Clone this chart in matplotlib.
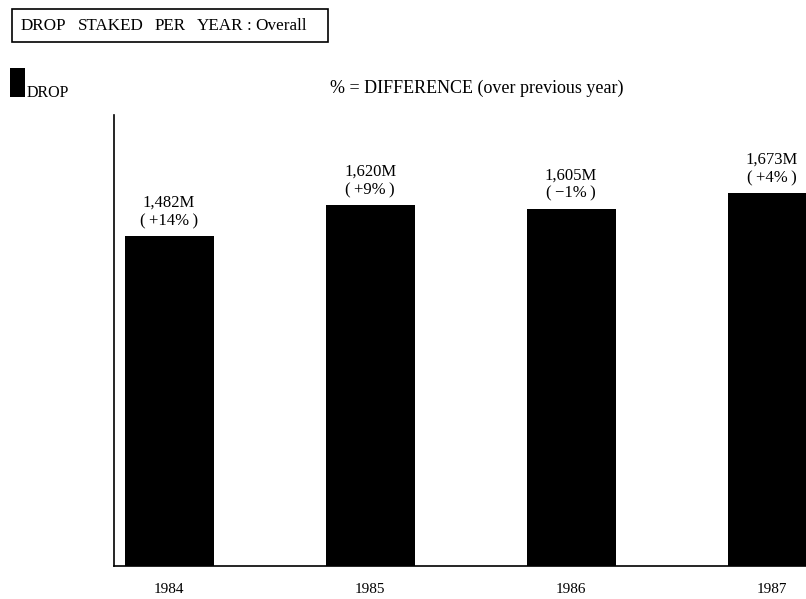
import matplotlib
matplotlib.use("Agg")
import matplotlib.pyplot as plt
from matplotlib.patches import Rectangle

years = ["1984", "1985", "1986", "1987"]
drop_millions = [1482, 1620, 1605, 1673]
pct_change = ["+14%", "+9%", "\u22121%", "+4%"]

plt.rcParams["font.family"] = ["Liberation Serif", "DejaVu Serif"]

W, H = 806, 599
fig = plt.figure(figsize=(W / 100, H / 100), dpi=100)

# axes box in pixel coordinates
ax_left, ax_right, ax_top, ax_bottom = 114, 806, 115, 566
ax = fig.add_axes([ax_left / W, 1 - ax_bottom / H,
                   (ax_right - ax_left) / W, (ax_bottom - ax_top) / H])

x = list(range(len(years)))
ax.bar(x, drop_millions, width=0.443, color="black")
ax.set_xlim(-0.274, 3.169)
ax.set_ylim(0, 2025)

thin = "\u2009"
for xi, v, p in zip(x, drop_millions, pct_change):
    ax.annotate(f"{v:,}M\n({thin}{p}{thin})", xy=(xi, v), xytext=(0, 5),
                textcoords="offset points", ha="center", va="bottom",
                fontsize=12, linespacing=1.2)

ax.set_xticks(x)
ax.set_xticklabels(years, fontsize=11)
ax.tick_params(axis="x", length=0, pad=12)
ax.set_yticks([])
for s in ["top", "right"]:
    ax.spines[s].set_visible(False)
ax.spines["left"].set_linewidth(1.2)
ax.spines["bottom"].set_linewidth(1.2)

# title box
fig.patches.append(Rectangle((12 / W, 1 - 42 / H), (328 - 12) / W, (42 - 9) / H,
                             transform=fig.transFigure, fill=False,
                             edgecolor="black", linewidth=1.2))
renderer = fig.canvas.get_renderer()
cursor = 21.0
title_parts = [("DROP", 11), ("STAKED", 11), ("PER", 11), ("YEAR", 4), (":", 4), ("Overall", 0)]
for word, gap in title_parts:
    t = fig.text(cursor / W, 1 - 30 / H, word, fontsize=12.3,
                 va="baseline", ha="left")
    cursor += t.get_window_extent(renderer).width + gap

# legend swatch
fig.patches.append(Rectangle((10 / W, 1 - 97 / H), 15 / W, 29 / H,
                             transform=fig.transFigure, facecolor="black",
                             edgecolor="none"))
fig.text(27 / W, 1 - 97 / H, "DROP", fontsize=11.5, va="baseline", ha="left")

fig.text(330 / W, 1 - 88 / H, "% = DIFFERENCE (over previous year)",
         fontsize=13, va="center", ha="left")

fig.savefig("out.png", dpi=100)
